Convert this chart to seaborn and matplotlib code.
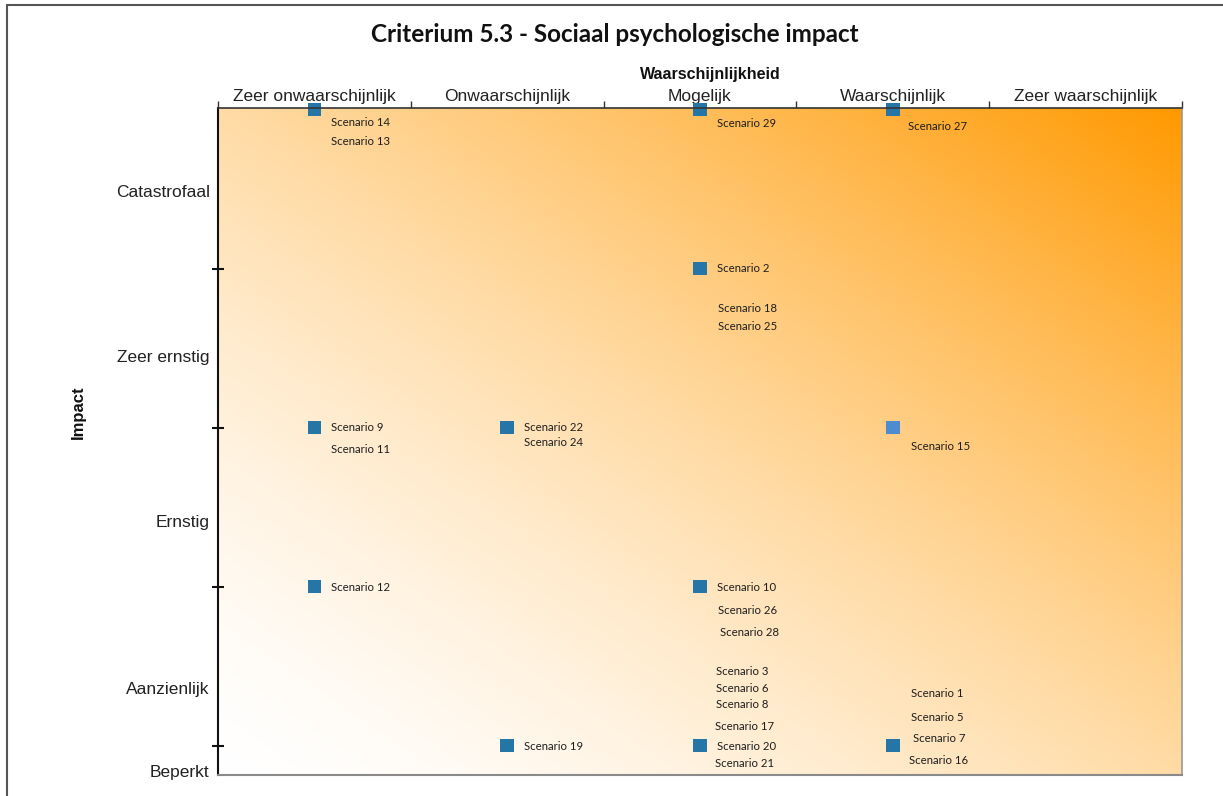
import numpy as np
import pandas as pd
import matplotlib
matplotlib.use("Agg")
import matplotlib.pyplot as plt
from matplotlib.patches import Rectangle
import seaborn as sns

# Axis categories
likelihood = ["Zeer onwaarschijnlijk", "Onwaarschijnlijk", "Mogelijk",
              "Waarschijnlijk", "Zeer waarschijnlijk"]
impact_levels = ["Beperkt", "Aanzienlijk", "Ernstig", "Zeer ernstig", "Catastrofaal"]

# Scenario clusters: likelihood class, impact score (1-5) and scenarios in the cluster
point_likelihood = ["Zeer onwaarschijnlijk", "Mogelijk", "Waarschijnlijk",
                    "Mogelijk",
                    "Zeer onwaarschijnlijk", "Onwaarschijnlijk", "Waarschijnlijk",
                    "Zeer onwaarschijnlijk", "Mogelijk",
                    "Mogelijk", "Onwaarschijnlijk", "Waarschijnlijk"]
point_impact = [5, 5, 5,
                4,
                3, 3, 3,
                2, 2,
                1, 1, 1]
point_tone = ["std", "std", "std",
              "std",
              "std", "std", "light",
              "std", "std",
              "std", "std", "std"]
point_scenarios = [
    ["Scenario 14", "Scenario 13"],
    ["Scenario 29"],
    ["Scenario 27"],
    ["Scenario 2", "Scenario 18", "Scenario 25"],
    ["Scenario 9", "Scenario 11"],
    ["Scenario 22", "Scenario 24"],
    ["Scenario 15"],
    ["Scenario 12"],
    ["Scenario 10", "Scenario 26", "Scenario 28"],
    ["Scenario 3", "Scenario 6", "Scenario 8", "Scenario 17", "Scenario 20", "Scenario 21"],
    ["Scenario 19"],
    ["Scenario 1", "Scenario 5", "Scenario 7", "Scenario 16"],
]

# Layout: where the category names sit on the impact axis, and label offsets (px right, px down)
impact_label_pos = [0.84, 1.36, 2.41, 3.45, 4.49]
label_offsets = [
    [(17, 12), (17, 31)],
    [(17, 13)],
    [(15, 16)],
    [(17, -1), (18, 39), (18, 57)],
    [(17, -1), (17, 21)],
    [(17, -1), (17, 14)],
    [(18, 18)],
    [(17, 0)],
    [(17, 0), (18, 23), (20, 45)],
    [(16, -75), (16, -58), (16, -42), (15, -20), (17, 0), (15, 17)],
    [(17, 0)],
    [(18, -53), (18, -29), (20, -8), (16, 14)],
]

df = pd.DataFrame({
    "likelihood": point_likelihood,
    "impact": point_impact,
    "tone": point_tone,
})
df["x"] = df["likelihood"].map({name: i for i, name in enumerate(likelihood)})

sns.set_theme(style="white")
plt.rcParams["font.family"] = ["Liberation Sans", "DejaVu Sans"]

W, H = 1223, 796
fig = plt.figure(figsize=(W / 100, H / 100), dpi=100)
fig.patch.set_facecolor("white")
ax = fig.add_axes([218 / W, 21 / H, 964 / W, 667 / H])

# Diagonal white-to-orange background
n = 400
u = np.linspace(0, 1, n)
v = np.linspace(0, 1, n)
U, V = np.meshgrid(u, v)
t = np.clip((U + V) / 2.0, 0, 1) ** 1.5
white = np.array([1.0, 1.0, 1.0])
orange = np.array([1.0, 0.60, 0.0])
img = white[None, None, :] * (1 - t[..., None]) + orange[None, None, :] * t[..., None]
ax.imshow(img, extent=(0, 1, 0, 1), transform=ax.transAxes, origin="lower",
          aspect="auto", zorder=0, interpolation="bilinear")

sns.scatterplot(data=df, x="x", y="impact", hue="tone",
                palette={"std": "#2576A6", "light": "#4E8BCF"},
                marker="s", s=95, linewidth=0, legend=False, ax=ax,
                zorder=3, clip_on=False)

for (_, row), names, offs in zip(df.iterrows(), point_scenarios, label_offsets):
    for name, (dx, dy) in zip(names, offs):
        ax.annotate(name, xy=(row["x"], row["impact"]), xytext=(dx, -dy - 1),
                    textcoords="offset pixels", ha="left", va="center",
                    fontsize=8.2, family=["Lato", "DejaVu Sans"], color="#1e1e1e",
                    zorder=4, annotation_clip=False)

ax.set_xlim(-0.5, 4.5)
ax.set_ylim(0.815, 5.01)

# Top likelihood axis: ticks on class boundaries, names centred in each class
ax.xaxis.tick_top()
ax.set_xticks(np.arange(-0.5, 5.0, 1.0))
ax.set_xticklabels([])
ax.set_xticks(np.arange(5), minor=True)
ax.set_xticklabels(likelihood, minor=True, fontsize=12.5, color="#222222")
ax.tick_params(axis="x", which="major", top=True, bottom=False, direction="out",
               length=5, width=1, color="#333333")
ax.tick_params(axis="x", which="minor", top=True, bottom=False, length=0, pad=3)

# Left impact axis
ax.set_yticks([1, 2, 3, 4])
ax.set_yticklabels([])
ax.set_yticks(impact_label_pos, minor=True)
ax.set_yticklabels(impact_levels, minor=True, fontsize=12.5, color="#222222")
ax.tick_params(axis="y", which="major", left=True, direction="inout",
               length=8, width=1.5, color="#111111")
ax.tick_params(axis="y", which="minor", left=True, length=0, pad=6)

for side, col, lw in [("left", "#111111", 1.5), ("top", "#333333", 1.2),
                      ("right", "#9a9a9a", 1.2), ("bottom", "#8a8a8a", 1.5)]:
    ax.spines[side].set_visible(True)
    ax.spines[side].set_color(col)
    ax.spines[side].set_linewidth(lw)
    ax.spines[side].set_zorder(5)

ax.set_xlabel("Waarschijnlijkheid", fontsize=11.5, fontweight="bold", color="#111111")
ax.xaxis.set_label_position("top")
ax.xaxis.set_label_coords((710 - 218) / 964, (775 - 74) / 667)
ax.xaxis.label.set_verticalalignment("center")

ax.set_ylabel("Impact", fontsize=12, fontweight="bold", color="#111111")
ax.yaxis.set_label_coords((78 - 218) / 964, (775 - 412) / 667)
ax.yaxis.label.set_verticalalignment("center")

fig.text(615 / W, 1 - 35 / H, "Criterium 5.3 - Sociaal psychologische impact",
         ha="center", va="center", fontsize=17.5, fontweight="bold",
         family=["Lato", "DejaVu Sans"], color="#111111")

# Outer frame
fig.patches.append(Rectangle((7 / W, -0.01), 1.05, 1 - 5 / H + 0.01,
                             transform=fig.transFigure, fill=False,
                             edgecolor="#555555", linewidth=1.5, zorder=0))

fig.savefig("out.png", dpi=100)
